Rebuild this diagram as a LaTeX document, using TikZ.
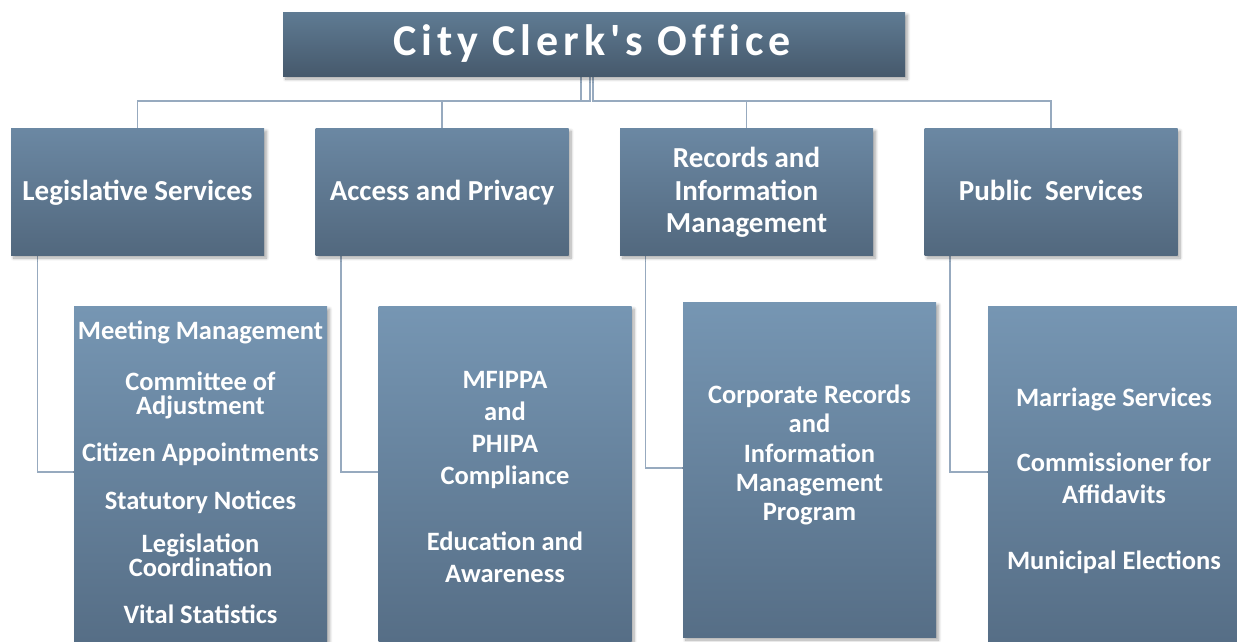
\documentclass[tikz,border=0pt]{standalone}
\usepackage{fontspec}
\setmainfont{Carlito}
\newfontfamily\titlefont{Carlito}[LetterSpace=11, Ligatures=NoCommon]
\usetikzlibrary{shadows.blur}

\definecolor{headtop}{HTML}{5F7B93}
\definecolor{headbot}{HTML}{46596C}
\definecolor{unittop}{HTML}{6B88A3}
\definecolor{unitbot}{HTML}{52687E}
\definecolor{dutytop}{HTML}{7696B3}
\definecolor{dutybot}{HTML}{566E86}
\definecolor{linkcol}{HTML}{97AABF}

\pgfdeclarelayer{background}
\pgfsetlayers{background,main}

\tikzset{
  boxbase/.style={draw=none, inner sep=0pt, text=white, font=\bfseries,
    blur shadow={shadow xshift=2.5pt, shadow yshift=-3pt, shadow blur steps=8,
      shadow blur radius=3pt, shadow opacity=35}},
  headbox/.style={boxbase, minimum width=622pt, minimum height=64pt,
    top color=headtop, bottom color=headbot},
  unitbox/.style={boxbase, minimum width=253pt, minimum height=127pt,
    top color=unittop, bottom color=unitbot},
  dutybox/.style={boxbase, minimum width=253pt, minimum height=335pt,
    top color=dutytop, bottom color=dutybot},
  unittext/.style={text=white, align=center, inner sep=0pt,
    font=\bfseries\fontsize{29}{32.5}\selectfont},
  dutytext/.style={text=white, align=center, inner sep=0pt,
    font=\bfseries\fontsize{26.5}{32}\selectfont},
  link/.style={draw=linkcol, line width=1.8pt},
}

\begin{document}
\begin{tikzpicture}[x=1pt, y=-1pt]
\useasboundingbox (0,0) rectangle (1237,641);
\clip (0,0) rectangle (1237,641);

% top of the chart
\node[headbox] (head) at (594,44) {};
\node[text=white, inner sep=0pt, font=\titlefont\bfseries\fontsize{44}{48}\selectfont]
  (headtxt) at (592,44) {City Clerk's Office};

% second row: the four sections
\node[unitbox] (u1) at (137.5,191.5) {};
\node[unitbox] (u2) at (442,191.5) {};
\node[unitbox] (u3) at (746.5,191.5) {};
\node[unitbox] (u4) at (1051,191.5) {};

\node[unittext] (u1t) at (137.5,193) {Legislative Services};
\node[unittext] (u2t) at (442,193) {Access and Privacy};
\node[unittext] (u3t) at (746.5,192.5) {Records and\\Information\\Management};
\node[unittext] (u4t) at (1051,190) {Public\ \ Services};

% third row: the duties of each section
\node[dutybox] (d1) at (200.5,473.5) {};
\node[dutybox] (d2) at (505,473.5) {};
\node[dutybox] (d3) at (809.5,469.5) {};
\node[dutybox] (d4) at (1114.5,473.5) {};

\node[dutytext, font=\bfseries\fontsize{26.5}{24}\selectfont] (d1t) at (200.5,472.5)
  {Meeting Management\\[27pt]Committee of\\Adjustment\\[23pt]Citizen Appointments\\[24pt]Statutory Notices\\[19pt]Legislation\\Coordination\\[23pt]Vital Statistics};
\node[dutytext] (d2t) at (505,477)
  {MFIPPA\\and\\PHIPA\\Compliance\\[34pt]Education and\\Awareness};
\node[dutytext, font=\bfseries\fontsize{26.5}{29.2}\selectfont] (d3t) at (809.5,455)
  {Corporate Records\\and\\Information\\Management\\Program};
\node[dutytext] (d4t) at (1114,481)
  {Marriage Services\\[33pt]Commissioner for\\Affidavits\\[34pt]Municipal Elections};

\begin{pgfonlayer}{background}
% links from the office to the sections
\draw[link] ([xshift=-13pt]head.south) -- ++(0,25) -| (u1.north);
\draw[link] ([xshift=-4pt]head.south) -- ++(0,25) -| (u2.north);
\draw[link] ([xshift=-1pt]head.south) -- ++(0,25) -| (u3.north);
\draw[link] ([xshift=-1pt]head.south) -- ++(0,25) -| (u4.north);

% links from the sections to their duties
\draw[link] ([xshift=-100pt]u1.south) |- (d1.west |- 0,472);
\draw[link] ([xshift=-101pt]u2.south) |- (d2.west |- 0,472);
\draw[link] ([xshift=-101pt]u3.south) |- (d3.west |- 0,468);
\draw[link] ([xshift=-101pt]u4.south) |- (d4.west |- 0,472);
\end{pgfonlayer}
\end{tikzpicture}
\end{document}
